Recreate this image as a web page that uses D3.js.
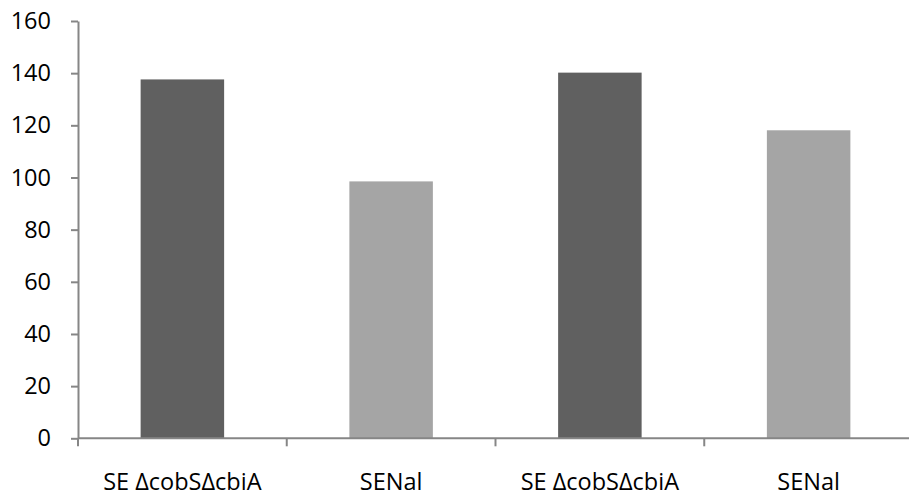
<!DOCTYPE html>
<html>
<head>
<meta charset="utf-8">
<script src="https://cdn.jsdelivr.net/npm/d3@7"></script>
<style>
  html, body { margin: 0; padding: 0; background: #ffffff; }
  svg { display: block; }
</style>
</head>
<body>
<svg id="chart" width="909" height="497"></svg>
<script>
const categories = ["SE \u0394cobS\u0394cbiA", "SENal", "SE \u0394cobS\u0394cbiA", "SENal"];
const values = [137.6, 98.5, 140.2, 118.1];
const barColors = ["#606060", "#a5a5a5", "#606060", "#a5a5a5"];
const yTicks = [0, 20, 40, 60, 80, 100, 120, 140, 160];

const svg = d3.select("#chart");
const x0 = 78, x1 = 913, yTop = 21, yBottom = 438.3;
const fontFamily = "'Open Sans', sans-serif";
const axisColor = "#868686";

const x = d3.scaleBand().domain(d3.range(categories.length)).range([x0, x1])
  .paddingInner(0.6).paddingOuter(0.3);
const y = d3.scaleLinear().domain([0, 160]).range([yBottom, yTop]);

// bars
svg.append("g").selectAll("rect").data(values).join("rect")
  .attr("x", (d, i) => x(i))
  .attr("width", x.bandwidth())
  .attr("y", d => y(d))
  .attr("height", d => y(0) - y(d))
  .attr("fill", (d, i) => barColors[i]);

// y axis
const yAxis = svg.append("g").attr("transform", `translate(${x0},0)`)
  .call(d3.axisLeft(y).tickValues(yTicks).tickSize(7).tickPadding(20).tickSizeOuter(0));
yAxis.select(".domain").attr("stroke", axisColor).attr("stroke-width", 2);
yAxis.selectAll(".tick line").attr("stroke", axisColor).attr("stroke-width", 2);
yAxis.selectAll(".tick text").attr("fill", "#000").style("font-family", fontFamily).style("font-size", "23.5px");

// x axis
const xAxisG = svg.append("g").attr("transform", `translate(0,${yBottom})`);
xAxisG.append("line").attr("x1", x0).attr("x2", x1).attr("y1", 0).attr("y2", 0)
  .attr("stroke", axisColor).attr("stroke-width", 2);
const boundaries = d3.range(categories.length + 1).map(i => x0 + i * x.step());
xAxisG.selectAll("line.tk").data(boundaries).join("line").attr("class", "tk")
  .attr("x1", d => d).attr("x2", d => d).attr("y1", 0).attr("y2", 8)
  .attr("stroke", axisColor).attr("stroke-width", 2);
xAxisG.selectAll("text").data(categories).join("text")
  .attr("x", (d, i) => x(i) + x.bandwidth() / 2)
  .attr("y", 52.2)
  .attr("text-anchor", "middle")
  .attr("fill", "#000")
  .style("font-family", fontFamily)
  .style("font-size", "23.5px")
  .text(d => d);
</script>
</body>
</html>
